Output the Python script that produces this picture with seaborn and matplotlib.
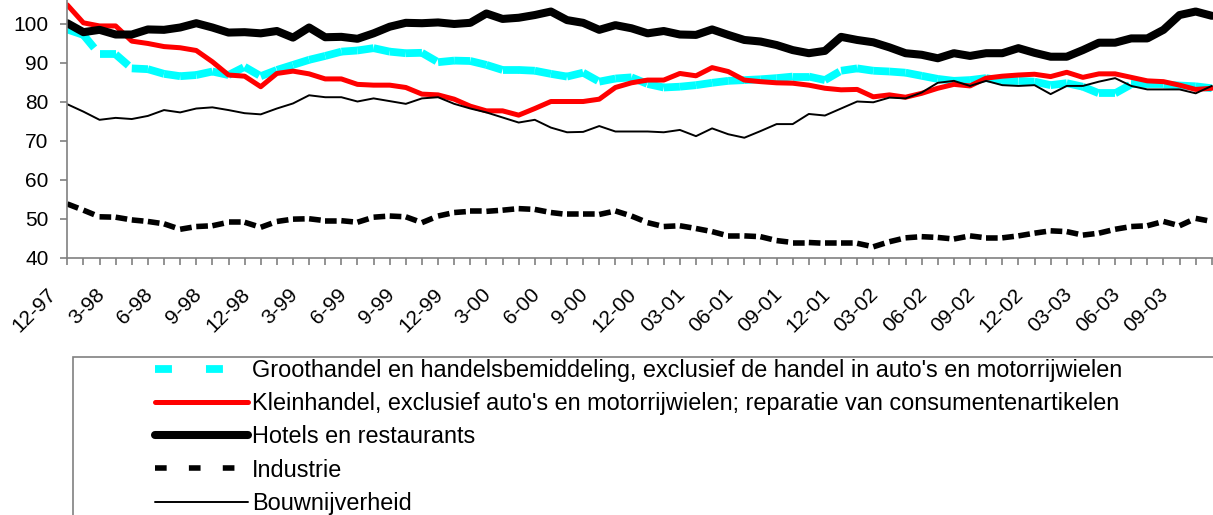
import matplotlib
matplotlib.use("Agg")
import numpy as np
import seaborn as sns
from matplotlib import pyplot as plt
from matplotlib.lines import Line2D
from matplotlib.patches import Rectangle
from matplotlib.transforms import ScaledTranslation

# labels on every third month, starting at 12-97
tick_labels = ["12-97", "3-98", "6-98", "9-98", "12-98", "3-99", "6-99", "9-99",
               "12-99", "3-00", "6-00", "9-00", "12-00", "03-01", "06-01", "09-01",
               "12-01", "03-02", "06-02", "09-02", "12-02", "03-03", "06-03", "09-03"]

series_names = [
    "Groothandel en handelsbemiddeling, exclusief de handel in auto's en motorrijwielen",
    "Kleinhandel, exclusief auto's en motorrijwielen; reparatie van consumentenartikelen",
    "Hotels en restaurants",
    "Industrie",
    "Bouwnijverheid",
]

groothandel = [98.6, 97.2, 92.2, 92.2, 88.6, 88.4, 87.2, 86.6, 86.9, 87.8, 86.9, 89.0,
               86.6, 88.2, 89.5, 90.8, 91.8, 92.9, 93.2, 93.8, 92.9, 92.5, 92.6, 90.2,
               90.6, 90.5, 89.5, 88.2, 88.2, 88.0, 87.2, 86.5, 87.5, 85.2, 86.0, 86.3,
               84.6, 83.7, 83.9, 84.3, 84.9, 85.4, 85.6, 85.8, 86.1, 86.5, 86.5, 85.6,
               88.0, 88.6, 88.0, 87.8, 87.5, 86.7, 85.9, 85.4, 85.6, 86.1, 85.4, 85.4,
               85.2, 84.3, 84.8, 83.9, 82.2, 82.2, 84.5, 84.5, 84.5, 84.2, 84.0, 83.5]

kleinhandel = [104.9, 100.3, 99.5, 99.5, 95.6, 95.0, 94.2, 93.9, 93.2, 90.3, 86.9, 86.6,
               83.9, 87.3, 87.9, 87.2, 85.9, 85.9, 84.5, 84.3, 84.3, 83.7, 82.0, 81.8,
               80.7, 78.9, 77.7, 77.7, 76.6, 78.3, 80.1, 80.1, 80.1, 80.7, 83.7, 84.9,
               85.6, 85.6, 87.3, 86.7, 88.8, 87.8, 85.6, 85.2, 84.9, 84.8, 84.3, 83.5,
               83.1, 83.2, 81.3, 81.8, 81.2, 82.2, 83.5, 84.5, 84.1, 86.1, 86.6, 86.9,
               87.1, 86.5, 87.6, 86.3, 87.2, 87.2, 86.3, 85.4, 85.2, 84.3, 83.2, 83.5]

horeca = [100.2, 97.9, 98.5, 97.3, 97.3, 98.6, 98.5, 99.1, 100.2, 99.1, 97.8, 97.9,
          97.6, 98.2, 96.5, 99.1, 96.6, 96.7, 96.2, 97.6, 99.3, 100.3, 100.2, 100.4,
          100.0, 100.3, 102.7, 101.3, 101.6, 102.3, 103.2, 101.0, 100.3, 98.5, 99.7, 98.9,
          97.6, 98.2, 97.3, 97.2, 98.6, 97.2, 95.9, 95.5, 94.6, 93.3, 92.5, 93.1,
          96.7, 95.9, 95.3, 94.0, 92.5, 92.1, 91.2, 92.5, 91.8, 92.5, 92.5, 93.8,
          92.6, 91.6, 91.6, 93.3, 95.2, 95.2, 96.3, 96.3, 98.5, 102.3, 103.2, 102.1]

industrie = [53.8, 52.2, 50.5, 50.4, 49.7, 49.3, 48.7, 47.3, 48.0, 48.2, 49.1, 49.1,
             47.8, 49.3, 49.9, 50.0, 49.5, 49.5, 49.1, 50.4, 50.7, 50.5, 49.0, 50.7,
             51.6, 51.9, 51.9, 52.2, 52.6, 52.4, 51.6, 51.1, 51.1, 51.1, 52.0, 50.7,
             49.0, 48.0, 48.2, 47.5, 46.7, 45.6, 45.6, 45.4, 44.4, 43.9, 43.9, 43.7,
             43.7, 43.7, 42.8, 44.1, 45.1, 45.4, 45.2, 44.8, 45.6, 45.1, 45.1, 45.6,
             46.3, 46.9, 46.7, 45.8, 46.3, 47.3, 48.0, 48.2, 49.3, 48.2, 50.1, 49.3]

bouw = [79.4, 77.5, 75.4, 75.9, 75.6, 76.4, 77.9, 77.3, 78.3, 78.6, 77.9, 77.1,
        76.8, 78.3, 79.6, 81.7, 81.2, 81.2, 80.1, 80.9, 80.2, 79.5, 80.9, 81.2,
        79.5, 78.3, 77.3, 76.0, 74.7, 75.4, 73.4, 72.2, 72.3, 73.8, 72.4, 72.4,
        72.4, 72.2, 72.8, 71.2, 73.2, 71.7, 70.8, 72.5, 74.3, 74.3, 76.9, 76.5,
        78.3, 80.1, 79.9, 81.1, 80.9, 82.4, 84.9, 85.4, 84.1, 85.4, 84.3, 84.1,
        84.3, 82.0, 84.1, 84.1, 85.2, 86.1, 84.1, 83.2, 83.2, 83.2, 82.2, 84.1]

CYAN = "#00ffff"
RED = "#ff0000"
AXIS_GREY = "#808080"
CYAN_DASH = (12.2, 24.5)
IND_DASH = (8.4, 16.0)

sns.set_theme(style="white")
plt.rcParams["font.family"] = ["Liberation Sans", "DejaVu Sans"]
plt.rcParams["text.color"] = "black"
plt.rcParams["lines.scale_dashes"] = False

fig = plt.figure(figsize=(12.13, 5.15), dpi=100)
ax = fig.add_axes([67.3 / 1213, 1 - 257.7 / 515, (1213 - 67.3) / 1213, 257.7 / 515])

x = np.arange(len(groothandel))


def dashed_segments(values, color, lw, dashes):
    # excel restarts the dash pattern on every segment
    for i in range(len(values) - 1):
        ax.plot(x[i:i + 2], values[i:i + 2], color=color, lw=lw,
                dashes=dashes, dash_capstyle="butt")


dashed_segments(groothandel, CYAN, 5.6, CYAN_DASH)
sns.lineplot(x=x, y=kleinhandel, ax=ax, color=RED, lw=3.6, solid_capstyle="round")
sns.lineplot(x=x, y=horeca, ax=ax, color="black", lw=5.8, solid_capstyle="round")
dashed_segments(industrie, "black", 4.0, IND_DASH)
sns.lineplot(x=x, y=bouw, ax=ax, color="black", lw=1.4)

ax.set_xlim(0, (1213 - 67.3) / 16.12)
ax.set_ylim(40, 106.16)
ax.set_yticks(range(40, 101, 10))
ax.set_xticks(x)
ax.set_xticklabels([tick_labels[i // 3] if i % 3 == 0 else "" for i in x])

for side in ["top", "right"]:
    ax.spines[side].set_visible(False)
for side in ["left", "bottom"]:
    ax.spines[side].set_color(AXIS_GREY)
    ax.spines[side].set_linewidth(1.2)

ax.tick_params(axis="both", direction="out", width=1.2, color=AXIS_GREY,
               labelsize=15, labelcolor="black", bottom=True, left=True)
ax.tick_params(axis="y", length=5, pad=8.6)
ax.tick_params(axis="x", length=5, pad=19.4)

shift = ScaledTranslation(-0.14, 0, fig.dpi_scale_trans)
for lab in ax.get_xticklabels():
    lab.set_rotation(45)
    lab.set_rotation_mode("anchor")
    lab.set_ha("right")
    lab.set_va("center")
    lab.set_transform(lab.get_transform() + shift)

handles = [
    Line2D([], [], color=CYAN, lw=5.6, dashes=CYAN_DASH, dash_capstyle="butt"),
    Line2D([], [], color=RED, lw=3.6, solid_capstyle="round"),
    Line2D([], [], color="black", lw=5.8, solid_capstyle="round"),
    Line2D([], [], color="black", lw=4.0, dashes=IND_DASH, dash_capstyle="butt"),
    Line2D([], [], color="black", lw=1.4),
]
fig.legend(handles, series_names, loc="upper left",
           bbox_to_anchor=(155 / 1213, 1 - 359 / 515), frameon=False,
           fontsize=16.9, handlelength=3.96, handletextpad=0.17,
           labelspacing=0.435, borderpad=0, borderaxespad=0)

# legend border runs off the right and bottom of the picture
fig.add_artist(Rectangle((73 / 1213, -0.1), 1.0, (1 - 357 / 515) + 0.1,
                         transform=fig.transFigure, fill=False,
                         edgecolor=AXIS_GREY, lw=1.2))

fig.savefig("out.png", dpi=100)
